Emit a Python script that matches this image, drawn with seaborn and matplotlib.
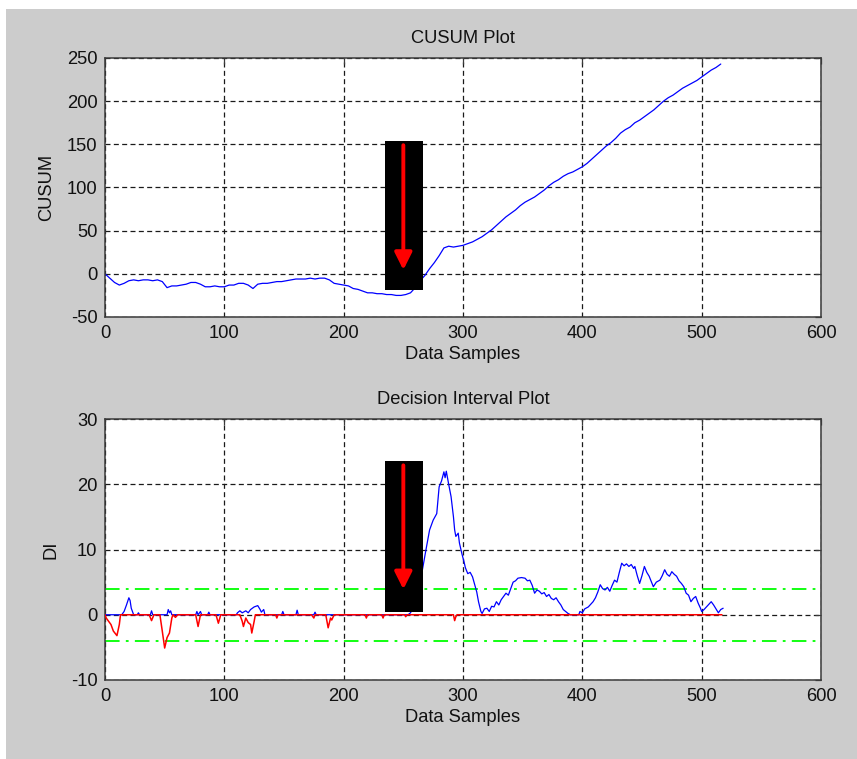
import numpy as np
import matplotlib
matplotlib.use("Agg")
import matplotlib.pyplot as plt
import seaborn as sns
from matplotlib.patches import Rectangle

# ---------------------------------------------------------------- data
# Cumulative sum of deviations, one reading every 4 samples (0 .. 516)
sample_step = 4
cusum_values = [
    0, -5, -10, -13, -11, -8, -7, -8, -7, -7,
    -8, -7, -9, -16, -14, -14, -13, -12, -10, -10,
    -12, -15, -15, -14, -15, -15, -13, -13, -11, -11,
    -13, -17, -12, -11, -11, -10, -9, -9, -8, -7,
    -6, -6, -6, -5, -6, -5, -5, -7, -11, -12,
    -13, -14, -17, -18, -20, -22, -22, -23, -23, -24,
    -24, -25, -25, -24, -22, -16, -8, -2, 6, 13,
    21, 30, 32, 31, 32, 33, 35, 37, 40, 43,
    47, 51, 56, 61, 66, 70, 74, 79, 83, 86,
    89, 93, 97, 102, 106, 109, 113, 116, 118, 121,
    124, 128, 133, 138, 143, 148, 152, 157, 163, 167,
    170, 175, 178, 182, 186, 190, 195, 200, 204, 207,
    211, 215, 218, 221, 224, 228, 232, 236, 239, 243,
]
cusum_samples = np.arange(len(cusum_values)) * sample_step

# Decision interval: upper (positive) side
upper_samples = [
    0, 14, 16, 18, 20, 21, 22, 24, 27, 28, 29, 38, 39, 40, 52, 53, 54, 55, 56,
    76, 77, 78, 80, 81, 86, 87, 88, 110, 111, 113, 115, 118, 120, 122, 125,
    128, 130, 131, 133, 134, 148, 149, 150, 160, 161, 162, 175, 176, 177,
    254, 256, 258, 262, 266, 269, 272, 275, 278, 280, 282, 284, 285, 286,
    288, 290, 292, 293, 294, 296, 297, 299, 301, 302, 304, 306, 308, 310,
    311.5, 313, 315, 316, 318, 320, 322, 324, 326, 328, 330, 332, 334, 336,
    338, 340, 342, 344, 346, 349, 352, 354, 356, 358, 360, 362, 364, 366,
    368, 370, 372, 374, 376, 378, 380, 382, 384, 386, 388, 390, 397, 398,
    400, 402, 405, 407, 409, 411, 413, 415, 417, 419, 421, 423, 425, 427,
    429, 431, 433, 435, 437, 439, 441, 443, 444, 446, 448, 450, 452, 454,
    456, 458, 459.5, 462, 465, 467, 469, 471, 473, 475, 477, 479, 481, 483,
    485, 487, 489, 491, 493, 495, 497, 499, 500, 502, 504, 506, 508, 510,
    511, 513, 514, 516, 518,
]
upper_values = [
    0, 0, 0.5, 1.5, 2.6, 2.2, 1.0, 0, 0, 0.3, 0, 0, 0.6, 0, 0, 0.8, 0.3, 0.6, 0,
    0, 0.5, 0, 0.5, 0, 0, 0.4, 0, 0, 0.3, 0.6, 0.3, 0.6, 0.3, 0.8, 1.2,
    1.4, 0.8, 0.4, 0.8, 0, 0, 0.5, 0, 0, 0.7, 0, 0, 0.4, 0,
    0, 0.3, 1.0, 4.0, 6.9, 10.0, 13.0, 14.5, 15.5, 19.6, 20.5, 21.9, 21.0, 22.0,
    20.0, 18.1, 15.0, 13.0, 12.0, 12.5, 11.0, 9.4, 8.0, 7.2, 6.3, 6.5, 5.8, 4.5,
    3.5, 2.0, 0.5, 0.2, 0.9, 1.0, 0.5, 1.3, 1.2, 2.0, 1.5, 2.3, 2.8, 3.3,
    3.0, 4.0, 5.0, 5.2, 5.6, 5.7, 5.6, 5.2, 5.3, 4.5, 3.3, 3.8, 3.6, 3.2,
    3.4, 2.8, 3.1, 2.5, 2.3, 2.6, 2.0, 1.5, 0.8, 0.5, 0.2, 0, 0, 0.5,
    0.3, 0.9, 1.2, 1.6, 2.0, 2.6, 3.5, 4.6, 4.0, 3.8, 4.2, 3.6, 4.5, 5.3,
    5.0, 6.5, 7.9, 7.5, 7.8, 7.4, 7.7, 7.1, 7.4, 6.0, 4.8, 6.0, 7.4, 6.5,
    5.9, 5.0, 4.3, 5.0, 5.3, 6.0, 6.9, 6.2, 5.9, 6.6, 6.2, 5.9, 5.2, 4.8,
    4.3, 3.3, 3.0, 2.0, 2.5, 2.8, 1.8, 1.0, 0.5, 0.8, 1.2, 1.6, 2.0, 1.5,
    1.2, 0.6, 0.3, 0.8, 1.0,
]

# Decision interval: lower (negative) side
lower_samples = [
    0, 1, 3, 5, 7, 10, 12, 13, 37, 39, 41, 46, 48, 50, 52, 54, 56, 57, 59, 61,
    76, 78, 80, 93, 95, 97, 113, 115, 116, 118, 120, 122, 123, 125, 126,
    143, 144, 145, 173, 175, 176, 185, 186, 187, 189, 190, 192, 218, 219, 220,
    232, 233, 234, 251, 252, 253, 292, 293, 294, 295, 517,
]
lower_values = [
    0, -0.5, -1.0, -1.5, -2.5, -3.2, -1.5, 0, 0, -0.9, 0, 0, -2.5, -5.1, -3.5,
    -2.8, -0.5, 0, -0.4, 0,
    0, -1.8, 0, 0, -1.3, 0, 0, -1.0, -1.8, -0.5, -1.2, -1.5, -2.8, -1.0, 0,
    0, -0.5, 0, 0, -0.5, 0, 0, -1.0, -2.0, -0.5, -0.8, 0, 0, -0.5, 0,
    0, -0.5, 0, 0, -0.3, 0, 0, -0.9, -0.3, 0, 0,
]

decision_limit = 4
change_point = 250

# ---------------------------------------------------------------- style
sns.set_theme(style="white")
plt.rcParams["font.family"] = ["Liberation Sans", "DejaVu Sans"]
plt.rcParams["lines.scale_dashes"] = False
plt.rcParams["axes.unicode_minus"] = False

FS = 13.2
GRAY = "#cccccc"

fig = plt.figure(figsize=(8.57, 7.59), dpi=100, facecolor="white")
fig.patches.append(Rectangle((6 / 857, 0), 1 - 6 / 857, 1 - 9 / 759,
                             transform=fig.transFigure, facecolor=GRAY,
                             edgecolor="none", zorder=-10))

ax1 = fig.add_axes([105 / 857, 1 - 317 / 759, 716 / 857, 259 / 759])
ax2 = fig.add_axes([105 / 857, 1 - 680 / 759, 716 / 857, 261 / 759])


def matlab_axes(ax, xlim, ylim, xticks, yticks):
    ax.set_facecolor("white")
    ax.set_xlim(*xlim)
    ax.set_ylim(*ylim)
    ax.set_xticks(xticks)
    ax.set_yticks(yticks)
    ax.grid(True, color="#1a1a1a", linestyle=(0, (3.6, 2.4)), linewidth=0.9)
    ax.set_axisbelow(True)
    for sp in ax.spines.values():
        sp.set_visible(True)
        sp.set_color("#3a3a3a")
        sp.set_linewidth(1.1)
    ax.tick_params(direction="in", length=4, width=0.9, color="#3a3a3a",
                   top=True, right=True, labelsize=FS, pad=5.5,
                   labelcolor="#111111")


# ---------------------------------------------------------------- CUSUM
matlab_axes(ax1, (0, 600), (-50, 250), range(0, 601, 100), range(-50, 251, 50))
sns.lineplot(x=cusum_samples, y=cusum_values, ax=ax1, color="#0000ff",
             linewidth=0.9, estimator=None, sort=False)
ax1.set_title("CUSUM Plot", fontsize=FS, pad=11, color="#111111")
ax1.set_xlabel("Data Samples", fontsize=FS, labelpad=3, color="#111111")
ax1.set_ylabel("CUSUM", fontsize=FS, labelpad=8, color="#111111")

ax1.add_patch(Rectangle((234.6, -19), 31.8, 173, facecolor="black",
                        edgecolor="none", zorder=5))
ax1.annotate("", xy=(change_point, 4.5), xytext=(change_point, 149),
             arrowprops=dict(arrowstyle="-|>", color="#ff0000", lw=2.8,
                             mutation_scale=26, shrinkA=0, shrinkB=0),
             zorder=6)

# ---------------------------------------------------------------- DI
matlab_axes(ax2, (0, 600), (-10, 30), range(0, 601, 100), range(-10, 31, 10))
for lim in (decision_limit, -decision_limit):
    ax2.axhline(lim, color="#00ff00", linewidth=1.3,
                linestyle=(0, (10.5, 4.5, 2.0, 4.5)), zorder=2)
sns.lineplot(x=upper_samples, y=upper_values, ax=ax2, color="#0000ff",
             linewidth=0.9, estimator=None, sort=False, zorder=3)
sns.lineplot(x=lower_samples, y=lower_values, ax=ax2, color="#ff0000",
             linewidth=1.1, estimator=None, sort=False, zorder=4)
ax2.set_title("Decision Interval Plot", fontsize=FS, pad=11, color="#111111")
ax2.set_xlabel("Data Samples", fontsize=FS, labelpad=3, color="#111111")
ax2.set_ylabel("DI", fontsize=FS, labelpad=8, color="#111111")

ax2.add_patch(Rectangle((234.6, 0.45), 31.8, 23.1, facecolor="black",
                        edgecolor="none", zorder=5))
ax2.annotate("", xy=(change_point, 3.9), xytext=(change_point, 22.9),
             arrowprops=dict(arrowstyle="-|>", color="#ff0000", lw=2.8,
                             mutation_scale=26, shrinkA=0, shrinkB=0),
             zorder=6)

fig.savefig("out.png", dpi=100, facecolor=fig.get_facecolor())
